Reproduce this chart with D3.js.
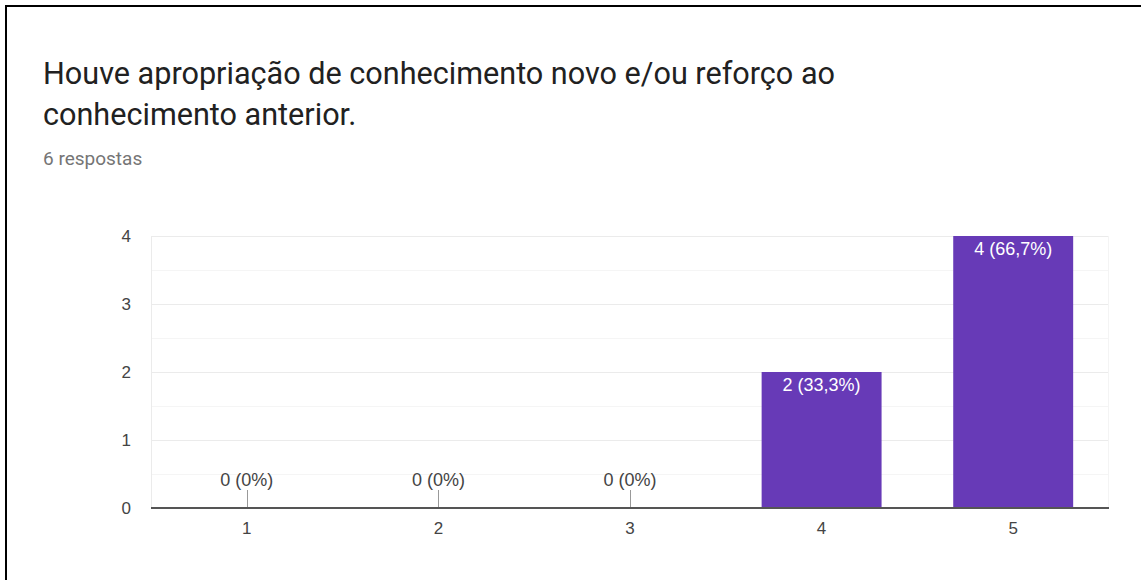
<!DOCTYPE html>
<html>
<head>
  <meta charset="utf-8">
  <script src="https://cdn.jsdelivr.net/npm/d3@7"></script>
  <style>
    body { margin: 0; background: #fff; }
  </style>
</head>
<body>
<script>
  // chart data
  var categories = ["1", "2", "3", "4", "5"];
  var counts = [0, 0, 0, 2, 4];
  var labels = ["0 (0%)", "0 (0%)", "0 (0%)", "2 (33,3%)", "4 (66,7%)"];
  var yTicks = [0, 1, 2, 3, 4];

  var W = 1141, H = 580;
  var svg = d3.select("body").append("svg")
      .attr("width", W).attr("height", H);

  // outer frame
  svg.append("rect")
      .attr("x", 6).attr("y", 6).attr("width", W + 10).attr("height", H + 10)
      .attr("fill", "#fff").attr("stroke", "#000").attr("stroke-width", 2);

  // title
  svg.append("text").attr("x", 43).attr("y", 84)
      .style("font-family", "Roboto").style("font-size", "30.6px").attr("fill", "#212121")
      .text("Houve apropriação de conhecimento novo e/ou reforço ao");
  svg.append("text").attr("x", 43).attr("y", 125)
      .style("font-family", "Roboto").style("font-size", "30.6px").attr("fill", "#212121")
      .text("conhecimento anterior.");
  svg.append("text").attr("x", 43).attr("y", 165)
      .style("font-family", "Roboto").style("font-size", "19px").attr("fill", "#757575")
      .text("6 respostas");

  var pLeft = 151, pRight = 1109, pTop = 236, pBottom = 508;

  var x = d3.scaleBand().domain(categories).range([pLeft, pRight]).paddingInner(0.374).paddingOuter(0.187);
  var y = d3.scaleLinear().domain([0, 4]).range([pBottom, pTop]);

  // gridlines, major and minor
  var g = svg.append("g");
  g.selectAll("line.minor").data(d3.range(0.5, 4, 1)).enter().append("line")
      .attr("x1", pLeft).attr("x2", pRight)
      .attr("y1", function (d) { return Math.round(y(d)) + 0.5; })
      .attr("y2", function (d) { return Math.round(y(d)) + 0.5; })
      .attr("stroke", "#f5f5f5");
  g.selectAll("line.major").data(yTicks.slice(1)).enter().append("line")
      .attr("x1", pLeft).attr("x2", pRight)
      .attr("y1", function (d) { return Math.round(y(d)) + 0.5; })
      .attr("y2", function (d) { return Math.round(y(d)) + 0.5; })
      .attr("stroke", "#ebebeb");
  g.append("line").attr("x1", pLeft + 0.5).attr("x2", pLeft + 0.5).attr("y1", pTop).attr("y2", pBottom)
      .attr("stroke", "#ebebeb");
  g.append("line").attr("x1", pRight - 0.5).attr("x2", pRight - 0.5).attr("y1", pTop).attr("y2", pBottom)
      .attr("stroke", "#f4f4f4");

  // y labels
  svg.selectAll("text.ytick").data(yTicks).enter().append("text")
      .attr("x", 131).attr("y", function (d) { return y(d) + 6; })
      .attr("text-anchor", "end")
      .style("font-family", "Liberation Sans, Arial").style("font-size", "17px").attr("fill", "#444")
      .text(function (d) { return d; });

  // bars
  svg.selectAll("rect.bar").data(counts).enter().append("rect")
      .attr("x", function (d, i) { return x(categories[i]); })
      .attr("width", x.bandwidth())
      .attr("y", function (d) { return y(d); })
      .attr("height", function (d) { return pBottom - y(d); })
      .attr("fill", "#673ab7");

  // value labels
  svg.selectAll("text.val").data(counts).enter().append("text")
      .attr("x", function (d, i) { return x(categories[i]) + x.bandwidth() / 2; })
      .attr("y", function (d) { return d > 0 ? y(d) + 19 : pBottom - 22; })
      .attr("text-anchor", "middle")
      .style("font-family", "Liberation Sans, Arial").style("font-size", "18px")
      .attr("fill", function (d) { return d > 0 ? "#fff" : "#444"; })
      .text(function (d, i) { return labels[i]; });

  // leader ticks for zero values
  svg.selectAll("line.lead").data(counts.filter(function (d) { return d === 0; })).enter().append("line")
      .attr("x1", function (d, i) { return Math.round(x(categories[i]) + x.bandwidth() / 2) + 0.5; })
      .attr("x2", function (d, i) { return Math.round(x(categories[i]) + x.bandwidth() / 2) + 0.5; })
      .attr("y1", pBottom - 18).attr("y2", pBottom)
      .attr("stroke", "#999");

  // baseline
  svg.append("line").attr("x1", pLeft).attr("x2", pRight).attr("y1", pBottom).attr("y2", pBottom)
      .attr("stroke", "#555").attr("stroke-width", 2);

  // x labels
  svg.selectAll("text.xtick").data(categories).enter().append("text")
      .attr("x", function (d) { return x(d) + x.bandwidth() / 2; })
      .attr("y", 534)
      .attr("text-anchor", "middle")
      .style("font-family", "Liberation Sans, Arial").style("font-size", "17px").attr("fill", "#444")
      .text(function (d) { return d; });
</script>
</body>
</html>
